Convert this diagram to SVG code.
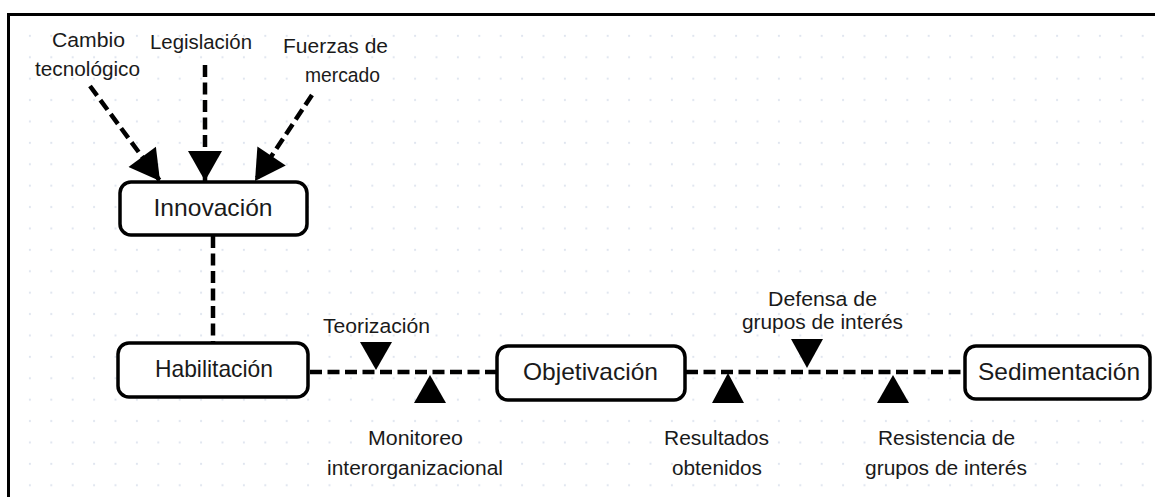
<svg xmlns="http://www.w3.org/2000/svg" width="1155" height="497" viewBox="0 0 1155 497">
<defs>
<pattern id="grid" x="8.5" y="14.5" width="21.4" height="21.4" patternUnits="userSpaceOnUse">
<circle cx="0" cy="0" r="1.1" fill="#dfe5ef"/>
<circle cx="21.4" cy="0" r="1.1" fill="#dfe5ef"/>
<circle cx="0" cy="21.4" r="1.1" fill="#dfe5ef"/>
<circle cx="21.4" cy="21.4" r="1.1" fill="#dfe5ef"/>
</pattern>
<marker id="arr" markerUnits="userSpaceOnUse" markerWidth="32" markerHeight="34" viewBox="0 0 30 34" refX="30" refY="17" orient="auto">
<path d="M0,0 L30,17 L0,34 Z" fill="#000"/>
</marker>
<style>
.node rect{fill:#fff;stroke:#000;stroke-width:3.5}
.node text{font-family:"Liberation Sans",Arial,sans-serif;font-size:24px;fill:#1a1a1a;text-anchor:middle}
.lbl{font-family:"Liberation Sans",Arial,sans-serif;font-size:20.5px;fill:#1a1a1a;text-anchor:middle}
.dash{fill:none;stroke:#000;stroke-width:4.5;stroke-dasharray:12 5.5}
.tri{fill:#000}
</style>
</defs>
<rect x="0" y="0" width="1155" height="497" fill="#fff"/>
<rect x="8" y="14" width="1147" height="483" fill="url(#grid)"/>
<path d="M8.5,497 L8.5,14.5 L1155,14.5" fill="none" stroke="#000" stroke-width="3"/>

<g id="connectors">
<path class="dash" d="M90,86 L160,181" marker-end="url(#arr)"/>
<path class="dash" d="M205,65 L205,181" marker-end="url(#arr)"/>
<path class="dash" d="M312,95 L255,181" marker-end="url(#arr)"/>
<path class="dash" d="M213,236 L213,343"/>
<path class="dash" d="M310,372 L497,372"/>
<path class="dash" d="M686,372 L965,372"/>
<polygon class="tri" points="360,342 392,342 376,370"/>
<polygon class="tri" points="414,403 446,403 430,375"/>
<polygon class="tri" points="712,403 744,403 728,373"/>
<polygon class="tri" points="791,339 823,339 807,368"/>
<polygon class="tri" points="877,403 909,403 893,375"/>
</g>

<g id="labels">
<text class="lbl" x="88.5" y="47" textLength="73" lengthAdjust="spacingAndGlyphs">Cambio</text>
<text class="lbl" x="87.5" y="76" textLength="105" lengthAdjust="spacingAndGlyphs">tecnológico</text>
<text class="lbl" x="201" y="49" textLength="102" lengthAdjust="spacingAndGlyphs">Legislación</text>
<text class="lbl" x="335.5" y="53" textLength="105" lengthAdjust="spacingAndGlyphs">Fuerzas de</text>
<text class="lbl" x="342.5" y="82" textLength="75" lengthAdjust="spacingAndGlyphs">mercado</text>
<text class="lbl" x="376.5" y="333" textLength="107" lengthAdjust="spacingAndGlyphs">Teorización</text>
<text class="lbl" x="415.5" y="445" textLength="95" lengthAdjust="spacingAndGlyphs">Monitoreo</text>
<text class="lbl" x="415" y="475" textLength="176" lengthAdjust="spacingAndGlyphs">interorganizacional</text>
<text class="lbl" x="716.5" y="445" textLength="105" lengthAdjust="spacingAndGlyphs">Resultados</text>
<text class="lbl" x="717" y="475" textLength="90" lengthAdjust="spacingAndGlyphs">obtenidos</text>
<text class="lbl" x="822.5" y="306" textLength="109" lengthAdjust="spacingAndGlyphs">Defensa de</text>
<text class="lbl" x="822.5" y="329" textLength="161" lengthAdjust="spacingAndGlyphs">grupos de interés</text>
<text class="lbl" x="946.5" y="445" textLength="137" lengthAdjust="spacingAndGlyphs">Resistencia de</text>
<text class="lbl" x="946" y="475" textLength="162" lengthAdjust="spacingAndGlyphs">grupos de interés</text>
</g>

<g id="innovacion" class="node">
<rect x="120" y="182" width="187" height="53" rx="11"/>
<text x="213" y="216" textLength="119" lengthAdjust="spacingAndGlyphs">Innovación</text>
</g>
<g id="habilitacion" class="node">
<rect x="118" y="343" width="190" height="54" rx="11"/>
<text x="214" y="377" textLength="118" lengthAdjust="spacingAndGlyphs">Habilitación</text>
</g>
<g id="objetivacion" class="node">
<rect x="497" y="346" width="188" height="54" rx="11"/>
<text x="590.5" y="380" textLength="135" lengthAdjust="spacingAndGlyphs">Objetivación</text>
</g>
<g id="sedimentacion" class="node">
<rect x="965" y="346" width="185" height="53" rx="11"/>
<text x="1059" y="380" textLength="162" lengthAdjust="spacingAndGlyphs">Sedimentación</text>
</g>
</svg>
